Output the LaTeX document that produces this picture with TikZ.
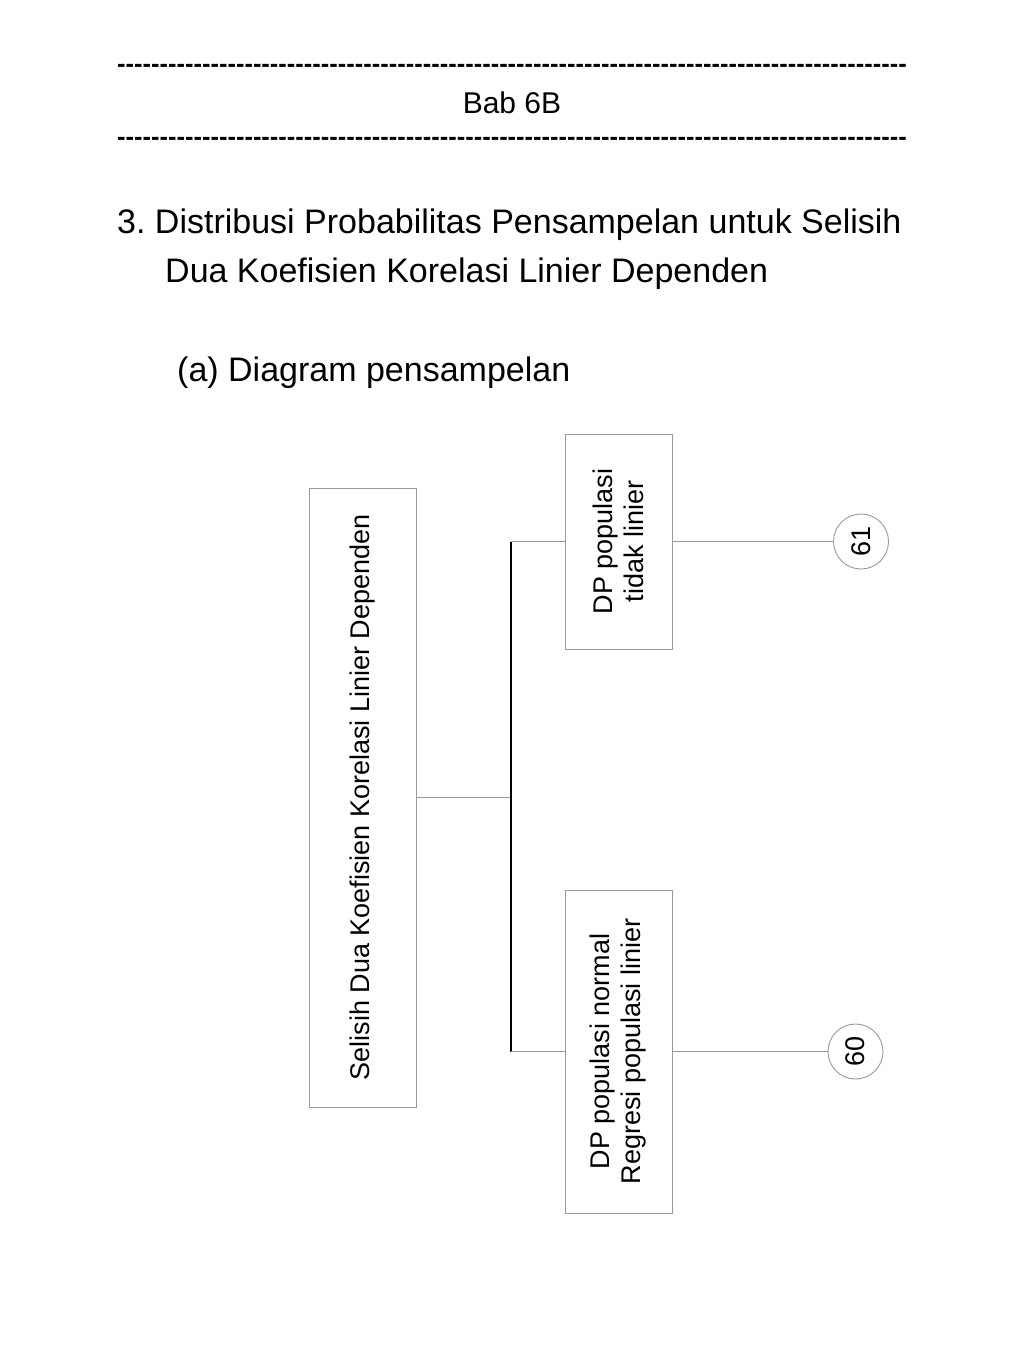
\documentclass[tikz,border=0pt]{standalone}
\usepackage{fontspec}
\setmainfont{Liberation Sans}
\newcommand{\dashrow}{\foreach \i in {1,...,93}{-\kern0pt}}

\begin{document}
\frenchspacing
\begin{tikzpicture}[x=1pt, y=-1pt,
            box/.style={rectangle, draw=gray!80, line width=0.9pt, rotate=90, minimum height=107pt, inner sep=0pt, align=center, font=\fontsize{27}{31}\selectfont},
            num/.style={circle, draw=gray!80, line width=0.9pt, minimum size=55pt, inner sep=0pt, rotate=90, font=\fontsize{27}{31}\selectfont},
            link/.style={draw=gray!80, line width=0.9pt},
            fork/.style={draw=black, line width=1.8pt},
            heading/.style={anchor=base west, inner sep=0pt, font=\fontsize{34}{40}\selectfont},
            dashes/.style={anchor=base, inner sep=0pt, font=\fontsize{25.5}{30}\selectfont\bfseries},
            every node/.style={text=black}
    ]
        \useasboundingbox (0,0) rectangle (1024,1365);

        % Header
        \node[dashes] (rule_top) at (512,72) {\dashrow};
        \node[anchor=base, inner sep=0pt, font=\fontsize{30}{34}\selectfont] (bab) at (512,113) {Bab 6B};
        \node[dashes] (rule_bot) at (512,145) {\dashrow};

        % Title
        \node[heading] (title1) at (117,233) {3. Distribusi Probabilitas Pensampelan untuk Selisih};
        \node[heading] (title2) at (165,282) {Dua Koefisien Korelasi Linier Dependen};
        \node[heading] (title3) at (177,381) {(a) Diagram pensampelan};

        % Boxes
        \node[box, minimum width=619pt] (selisih) at (362.5,797.5) {Selisih Dua Koefisien Korelasi Linier Dependen};
        \node[box, minimum width=215pt] (dp_tl) at (618.5,541.5) {DP populasi\\tidak linier};
        \node[box, minimum width=323pt] (dp_n) at (618.5,1051.5) {DP populasi normal\\Regresi populasi linier};

        % Numbers
        \node[num] (n61) at (861,541.5) {61};
        \node[num] (n60) at (855.5,1051.5) {60};

        % Lines
        \coordinate (split) at (511,797.5);
        \draw[link] (selisih.south) -- (split);
        \draw[fork] (split |- dp_tl.north) -- (split |- dp_n.north);
        \draw[link] (split |- dp_tl.north) -- (dp_tl.north);
        \draw[link] (split |- dp_n.north) -- (dp_n.north);
        \draw[link] (dp_tl.south) -- (n61);
        \draw[link] (dp_n.south) -- (n60);

    \end{tikzpicture}
\end{document}
